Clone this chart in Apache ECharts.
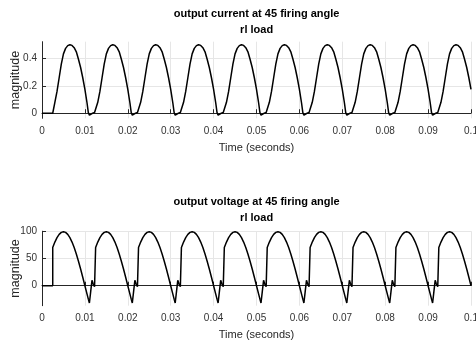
<!DOCTYPE html>
<html>
<head>
<meta charset="utf-8">
<script src="https://cdn.jsdelivr.net/npm/echarts@6/dist/echarts.min.js"></script>
<style>
  html, body { margin: 0; padding: 0; background: #fff; }
  #chart { width: 476px; height: 345px; }
</style>
</head>
<body>
<div id="chart"></div>
<script>
// sample times in milliseconds (one row per firing cycle, each row starts at the firing jump)
var timeMs = [
  0,
  2.5, 2.5, 3, 3.5, 4, 4.5, 5, 5.5, 6, 6.5, 7, 7.5, 8, 8.5, 9, 9.5, 10, 10.5, 10.8, 11.05, 11.35, 11.65, 11.9, 12.25,
  12.5, 12.5, 13, 13.5, 14, 14.5, 15, 15.5, 16, 16.5, 17, 17.5, 18, 18.5, 19, 19.5, 20, 20.5, 20.8, 21.05, 21.35, 21.65, 21.9, 22.25,
  22.5, 22.5, 23, 23.5, 24, 24.5, 25, 25.5, 26, 26.5, 27, 27.5, 28, 28.5, 29, 29.5, 30, 30.5, 30.8, 31.05, 31.35, 31.65, 31.9, 32.25,
  32.5, 32.5, 33, 33.5, 34, 34.5, 35, 35.5, 36, 36.5, 37, 37.5, 38, 38.5, 39, 39.5, 40, 40.5, 40.8, 41.05, 41.35, 41.65, 41.9, 42.25,
  42.5, 42.5, 43, 43.5, 44, 44.5, 45, 45.5, 46, 46.5, 47, 47.5, 48, 48.5, 49, 49.5, 50, 50.5, 50.8, 51.05, 51.35, 51.65, 51.9, 52.25,
  52.5, 52.5, 53, 53.5, 54, 54.5, 55, 55.5, 56, 56.5, 57, 57.5, 58, 58.5, 59, 59.5, 60, 60.5, 60.8, 61.05, 61.35, 61.65, 61.9, 62.25,
  62.5, 62.5, 63, 63.5, 64, 64.5, 65, 65.5, 66, 66.5, 67, 67.5, 68, 68.5, 69, 69.5, 70, 70.5, 70.8, 71.05, 71.35, 71.65, 71.9, 72.25,
  72.5, 72.5, 73, 73.5, 74, 74.5, 75, 75.5, 76, 76.5, 77, 77.5, 78, 78.5, 79, 79.5, 80, 80.5, 80.8, 81.05, 81.35, 81.65, 81.9, 82.25,
  82.5, 82.5, 83, 83.5, 84, 84.5, 85, 85.5, 86, 86.5, 87, 87.5, 88, 88.5, 89, 89.5, 90, 90.5, 90.8, 91.05, 91.35, 91.65, 91.9, 92.25,
  92.5, 92.5, 93, 93.5, 94, 94.5, 95, 95.5, 96, 96.5, 97, 97.5, 98, 98.5, 99, 99.5, 100
];

// output current (A)
var currentVals = [
  0,
  0, 0, 0.08, 0.16, 0.26, 0.36, 0.435, 0.475, 0.495, 0.502, 0.497, 0.48, 0.45, 0.395, 0.335, 0.26, 0.175, 0.075, 0.005, -0.014, -0.018, -0.002, 0.005, 0.005,
  0.005, 0.005, 0.08, 0.16, 0.26, 0.36, 0.435, 0.475, 0.495, 0.502, 0.497, 0.48, 0.45, 0.395, 0.335, 0.26, 0.175, 0.075, 0.005, -0.014, -0.018, -0.002, 0.005, 0.005,
  0.005, 0.005, 0.08, 0.16, 0.26, 0.36, 0.435, 0.475, 0.495, 0.502, 0.497, 0.48, 0.45, 0.395, 0.335, 0.26, 0.175, 0.075, 0.005, -0.014, -0.018, -0.002, 0.005, 0.005,
  0.005, 0.005, 0.08, 0.16, 0.26, 0.36, 0.435, 0.475, 0.495, 0.502, 0.497, 0.48, 0.45, 0.395, 0.335, 0.26, 0.175, 0.075, 0.005, -0.014, -0.018, -0.002, 0.005, 0.005,
  0.005, 0.005, 0.08, 0.16, 0.26, 0.36, 0.435, 0.475, 0.495, 0.502, 0.497, 0.48, 0.45, 0.395, 0.335, 0.26, 0.175, 0.075, 0.005, -0.014, -0.018, -0.002, 0.005, 0.005,
  0.005, 0.005, 0.08, 0.16, 0.26, 0.36, 0.435, 0.475, 0.495, 0.502, 0.497, 0.48, 0.45, 0.395, 0.335, 0.26, 0.175, 0.075, 0.005, -0.014, -0.018, -0.002, 0.005, 0.005,
  0.005, 0.005, 0.08, 0.16, 0.26, 0.36, 0.435, 0.475, 0.495, 0.502, 0.497, 0.48, 0.45, 0.395, 0.335, 0.26, 0.175, 0.075, 0.005, -0.014, -0.018, -0.002, 0.005, 0.005,
  0.005, 0.005, 0.08, 0.16, 0.26, 0.36, 0.435, 0.475, 0.495, 0.502, 0.497, 0.48, 0.45, 0.395, 0.335, 0.26, 0.175, 0.075, 0.005, -0.014, -0.018, -0.002, 0.005, 0.005,
  0.005, 0.005, 0.08, 0.16, 0.26, 0.36, 0.435, 0.475, 0.495, 0.502, 0.497, 0.48, 0.45, 0.395, 0.335, 0.26, 0.175, 0.075, 0.005, -0.014, -0.018, -0.002, 0.005, 0.005,
  0.005, 0.005, 0.08, 0.16, 0.26, 0.36, 0.435, 0.475, 0.495, 0.502, 0.497, 0.48, 0.45, 0.395, 0.335, 0.26, 0.175
];

// output voltage (V)
var voltageVals = [
  0,
  0, 70.7, 80.9, 89.1, 95.1, 98.8, 100, 98.8, 95.1, 89.1, 80.9, 70.7, 58.8, 45.4, 30.9, 15.6, 0, -15.6, -24.9, -32, -11, 10, 4, -2,
  -2, 70.7, 80.9, 89.1, 95.1, 98.8, 100, 98.8, 95.1, 89.1, 80.9, 70.7, 58.8, 45.4, 30.9, 15.6, 0, -15.6, -24.9, -32, -11, 10, 4, -2,
  -2, 70.7, 80.9, 89.1, 95.1, 98.8, 100, 98.8, 95.1, 89.1, 80.9, 70.7, 58.8, 45.4, 30.9, 15.6, 0, -15.6, -24.9, -32, -11, 10, 4, -2,
  -2, 70.7, 80.9, 89.1, 95.1, 98.8, 100, 98.8, 95.1, 89.1, 80.9, 70.7, 58.8, 45.4, 30.9, 15.6, 0, -15.6, -24.9, -32, -11, 10, 4, -2,
  -2, 70.7, 80.9, 89.1, 95.1, 98.8, 100, 98.8, 95.1, 89.1, 80.9, 70.7, 58.8, 45.4, 30.9, 15.6, 0, -15.6, -24.9, -32, -11, 10, 4, -2,
  -2, 70.7, 80.9, 89.1, 95.1, 98.8, 100, 98.8, 95.1, 89.1, 80.9, 70.7, 58.8, 45.4, 30.9, 15.6, 0, -15.6, -24.9, -32, -11, 10, 4, -2,
  -2, 70.7, 80.9, 89.1, 95.1, 98.8, 100, 98.8, 95.1, 89.1, 80.9, 70.7, 58.8, 45.4, 30.9, 15.6, 0, -15.6, -24.9, -32, -11, 10, 4, -2,
  -2, 70.7, 80.9, 89.1, 95.1, 98.8, 100, 98.8, 95.1, 89.1, 80.9, 70.7, 58.8, 45.4, 30.9, 15.6, 0, -15.6, -24.9, -32, -11, 10, 4, -2,
  -2, 70.7, 80.9, 89.1, 95.1, 98.8, 100, 98.8, 95.1, 89.1, 80.9, 70.7, 58.8, 45.4, 30.9, 15.6, 0, -15.6, -24.9, -32, -11, 10, 4, -2,
  -2, 70.7, 80.9, 89.1, 95.1, 98.8, 100, 98.8, 95.1, 89.1, 80.9, 70.7, 58.8, 45.4, 30.9, 15.6, 0
];

var currentTicks = [0, 0.2, 0.4];
var voltageTicks = [0, 50, 100];

var titles = [
  ['output current at 45 firing angle', 'rl load'],
  ['output voltage at 45 firing angle', 'rl load']
];

var FONT = '"Liberation Sans", Arial, Helvetica, sans-serif';
var AX = '#262626';

function xAxisFor(gridIndex) {
  return {
    type: 'value',
    gridIndex: gridIndex,
    min: 0,
    max: 0.1,
    interval: 0.01,
    name: 'Time (seconds)',
    nameLocation: 'middle',
    nameGap: 24,
    nameMoveOverlap: false,
    nameTextStyle: { fontFamily: FONT, fontSize: 11, color: AX },
    axisLine: { lineStyle: { color: AX, width: 1 } },
    axisTick: { inside: true, length: 4, lineStyle: { color: AX } },
    axisLabel: {
      fontFamily: FONT, fontSize: 10, color: '#333', margin: 8,
      formatter: function (v) { return String(Math.round(v * 100) / 100); }
    },
    splitLine: { show: true, lineStyle: { color: '#e6e6e6', width: 1 } }
  };
}

function yAxisFor(gridIndex, min, max, ticks) {
  return {
    type: 'value',
    gridIndex: gridIndex,
    min: min,
    max: max,
    name: 'magnitude',
    nameLocation: 'middle',
    nameGap: 20,
    nameMoveOverlap: false,
    nameTextStyle: { fontFamily: FONT, fontSize: 12.5, color: AX },
    axisLine: { show: true, lineStyle: { color: AX, width: 1 } },
    axisTick: { show: true, inside: true, length: 4, customValues: ticks, lineStyle: { color: AX } },
    axisLabel: { fontFamily: FONT, fontSize: 10, color: '#333', margin: 5, customValues: ticks },
    splitLine: { show: true, lineStyle: { color: '#e6e6e6', width: 1 } }
  };
}

function titleText(x, y, text) {
  return {
    type: 'text', x: x, y: y, silent: true,
    style: {
      text: text, fill: '#000', fontFamily: FONT, fontSize: 11, fontWeight: 'bold',
      align: 'center', verticalAlign: 'middle'
    }
  };
}

var option = {
  animation: false,
  backgroundColor: '#fff',
  grid: [
    { left: 42, right: 5, top: 41.7, height: 76.6, outerBoundsMode: 'none', containLabel: false },
    { left: 42, right: 5, top: 231.2, height: 74.5, outerBoundsMode: 'none', containLabel: false }
  ],
  xAxis: [xAxisFor(0), xAxisFor(1)],
  yAxis: [
    yAxisFor(0, -0.037, 0.524, currentTicks),
    yAxisFor(1, -37, 101, voltageTicks)
  ],
  graphic: [
    titleText(256.6, 14, titles[0][0]),
    titleText(256.6, 30, titles[0][1]),
    titleText(256.6, 202, titles[1][0]),
    titleText(256.6, 218, titles[1][1])
  ],
  series: [
    {
      type: 'line',
      xAxisIndex: 0,
      yAxisIndex: 0,
      showSymbol: false,
      lineStyle: { color: '#000', width: 1.5 },
      data: timeMs.map(function (t, i) { return [t / 1000, currentVals[i]]; })
    },
    {
      type: 'line',
      xAxisIndex: 1,
      yAxisIndex: 1,
      showSymbol: false,
      lineStyle: { color: '#000', width: 1.5 },
      data: timeMs.map(function (t, i) { return [t / 1000, voltageVals[i]]; })
    }
  ]
};

var chart = echarts.init(document.getElementById('chart'));
chart.setOption(option);
</script>
</body>
</html>
